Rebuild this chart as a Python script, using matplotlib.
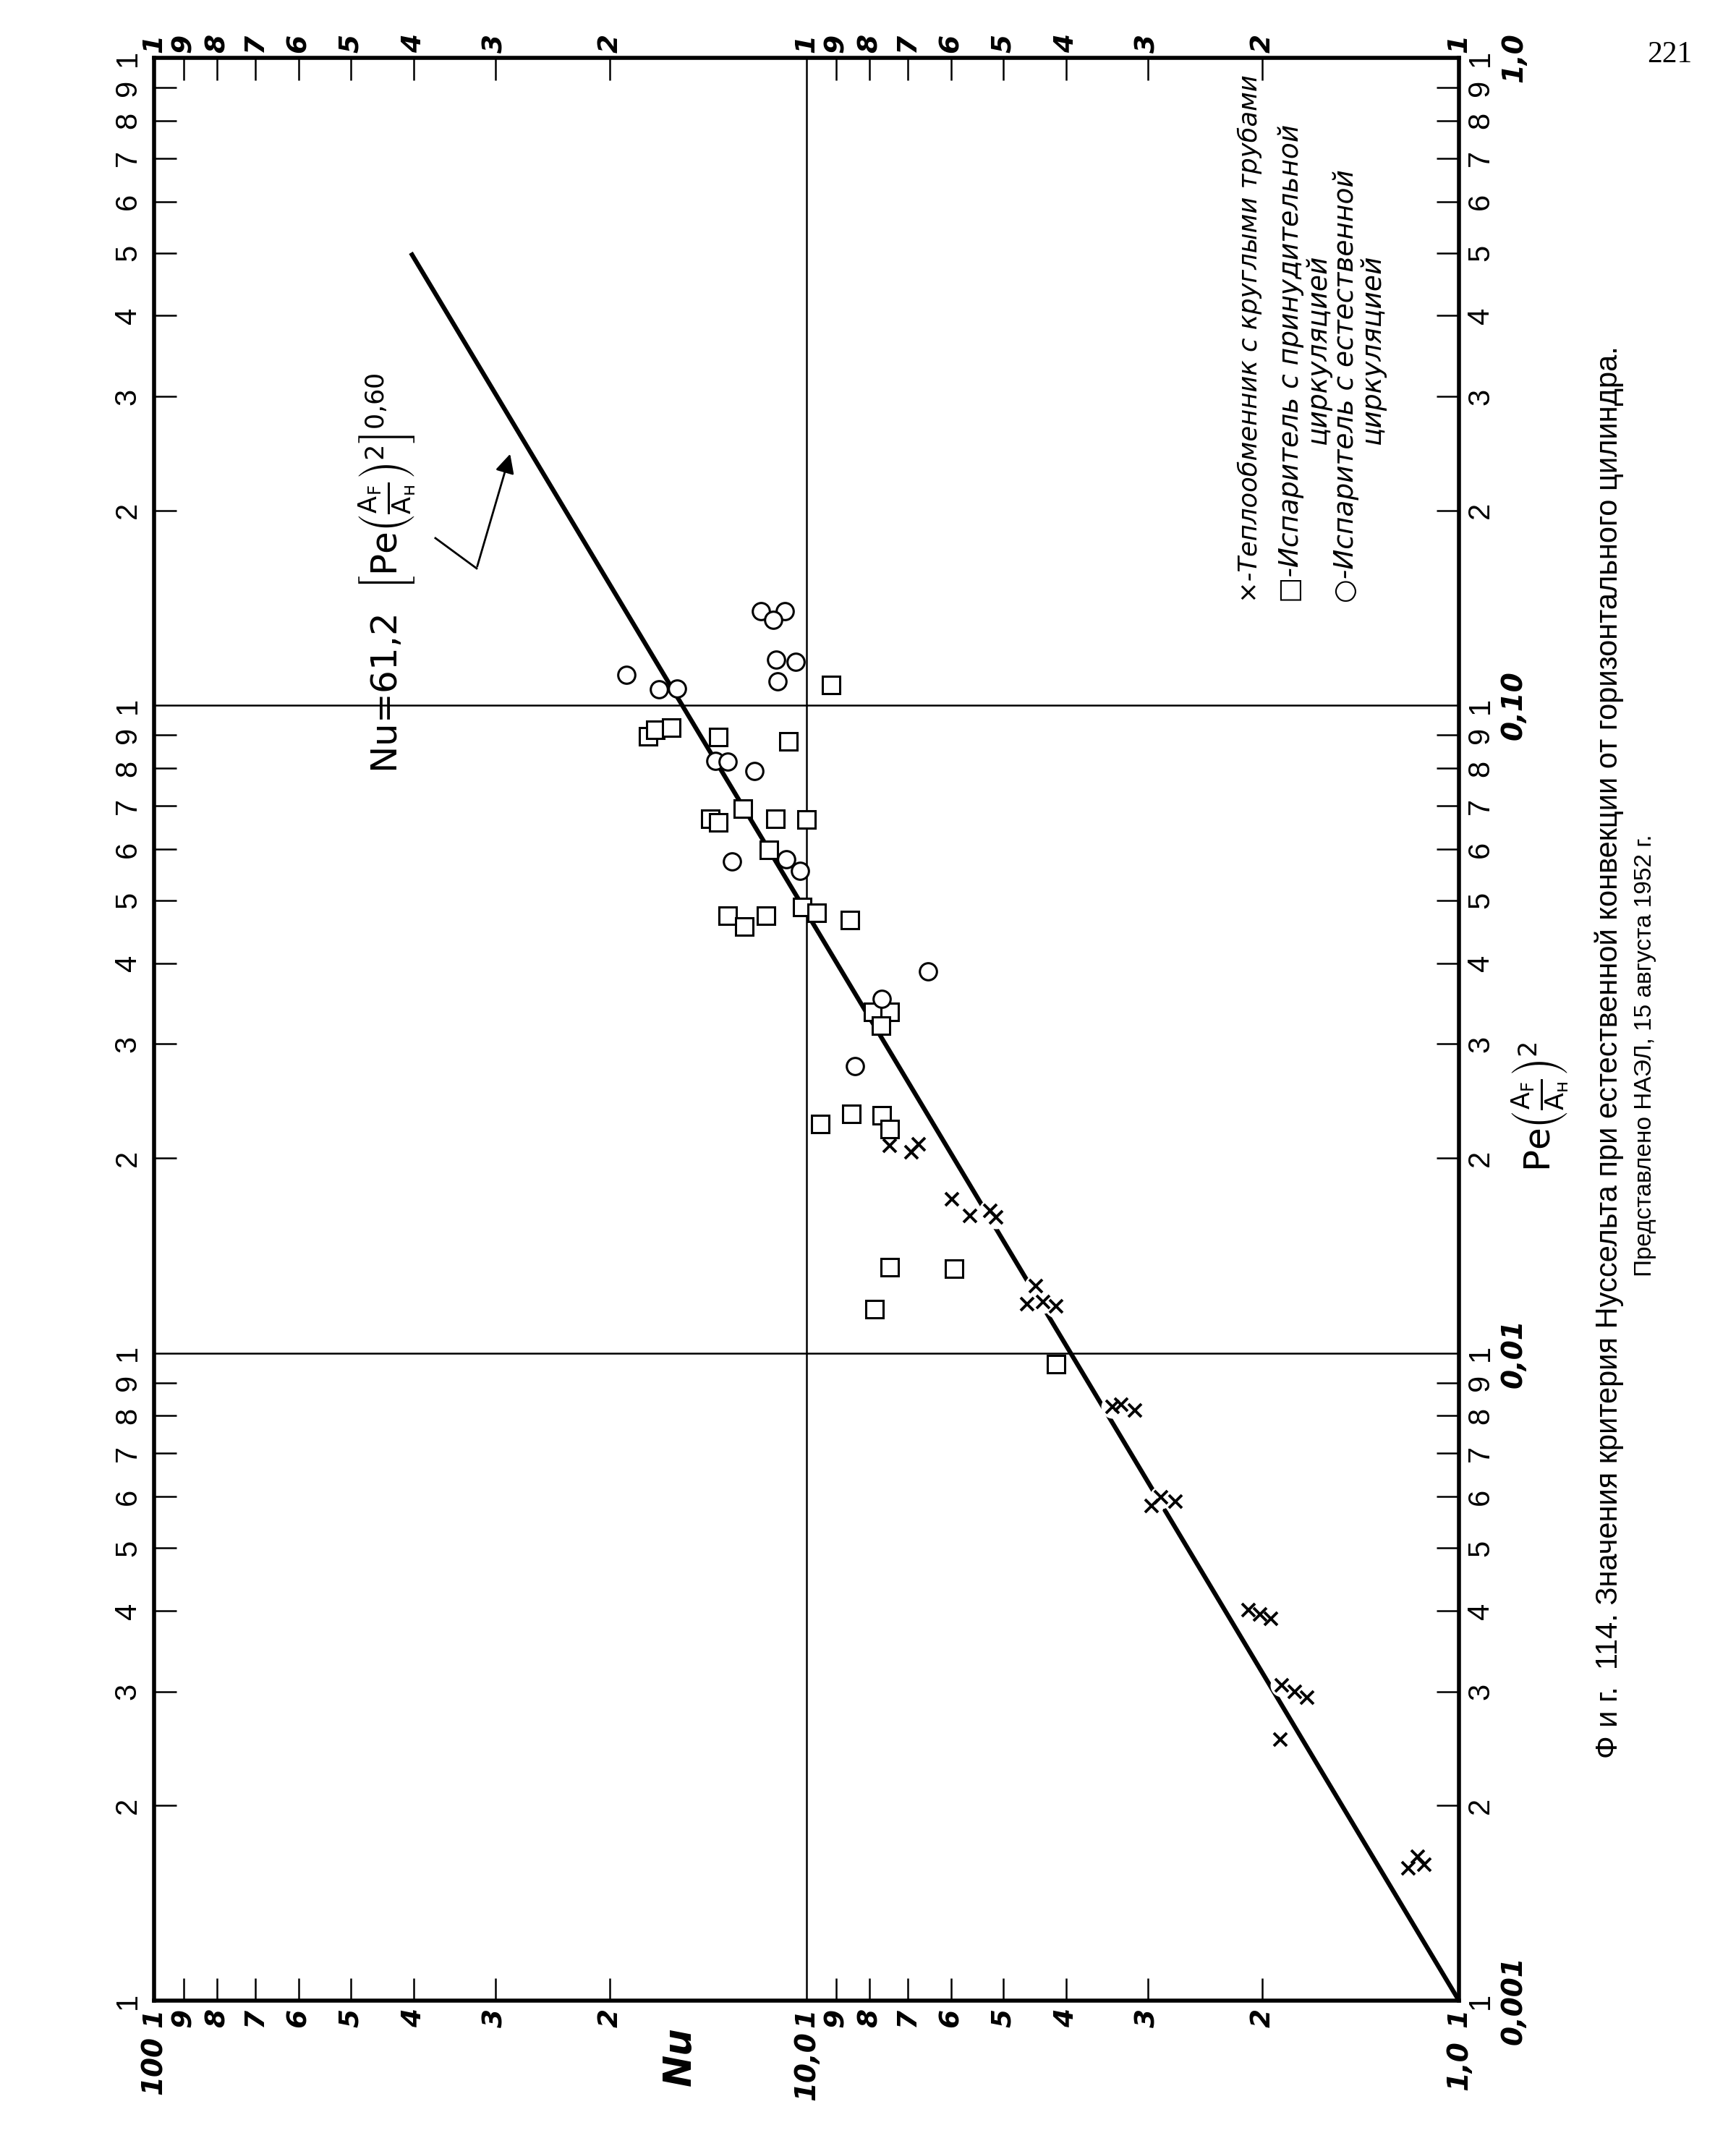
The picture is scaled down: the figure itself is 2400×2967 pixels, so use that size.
import numpy as np
import matplotlib.pyplot as plt
from matplotlib.transforms import blended_transform_factory

# оси: Nu по горизонтали (слева 100, справа 1), Pe(AF/AH)^2 по вертикали
nu_decades = [1, 10, 100]
pe_decades = [0.001, 0.01, 0.1, 1.0]
tick_digits = [2, 3, 4, 5, 6, 7, 8, 9]
nu_big_labels = ['1,0', '10,0', '100']
pe_big_labels = ['0,001', '0,01', '0,10', '1,0']

# x - теплообменник с круглыми трубами
tube_pe = [0.0209, 0.0204, 0.0210, 0.0173, 0.0163, 0.0166, 0.0162, 0.0127, 0.0119,
           0.0120, 0.0118, 0.00826, 0.00832, 0.00815, 0.00581, 0.00599, 0.00589,
           0.00401, 0.00395, 0.00389, 0.00307, 0.00300, 0.00294, 0.00253, 0.00160,
           0.00167, 0.00162]
tube_nu = [7.46, 6.91, 6.73, 5.99, 5.62, 5.23, 5.12, 4.45, 4.59,
           4.34, 4.14, 3.40, 3.29, 3.14, 2.96, 2.86, 2.72,
           2.10, 2.02, 1.94, 1.87, 1.785, 1.71, 1.88, 1.196,
           1.158, 1.131]

# квадраты - испаритель с принудительной циркуляцией
forced_pe = [0.1076, 0.0895, 0.0917, 0.0924, 0.0893, 0.0880, 0.0693, 0.0668, 0.0660,
             0.0668, 0.0666, 0.0598, 0.0473, 0.0456, 0.0473, 0.0488, 0.0479, 0.0466,
             0.0336, 0.0336, 0.0320, 0.0233, 0.0222, 0.0234, 0.0226, 0.01358, 0.01351,
             0.01169, 0.00961]
forced_nu = [9.16, 17.49, 17.06, 16.12, 13.65, 10.66, 12.52, 14.03, 13.65,
             11.16, 10.0, 11.42, 13.22, 12.45, 11.54, 10.16, 9.65, 8.59,
             7.90, 7.46, 7.69, 7.66, 7.46, 8.53, 9.53, 7.46, 5.94,
             7.87, 4.14]

# кружки - испаритель с естественной циркуляцией
natural_pe = [0.1397, 0.1397, 0.1356, 0.1178, 0.1168, 0.1090, 0.1116, 0.1060, 0.1062,
              0.0821, 0.0819, 0.0791, 0.0574, 0.0579, 0.0555, 0.0388, 0.0352, 0.0277]
natural_nu = [11.74, 10.8, 11.25, 11.13, 10.39, 11.07, 18.89, 16.84, 15.79,
              13.81, 13.22, 12.03, 13.01, 10.74, 10.24, 6.51, 7.67, 8.42]

# линия Nu = 61,2 [Pe(AF/AH)^2]^0,60
fit_pe = [0.001, 0.5]
fit_nu = [1.0, 40.4]

legend_lines = ['×-Теплообменник с круглыми трубами',
                '□-Испаритель с принудительной',
                'циркуляцией',
                '○-Испаритель с естественной',
                'циркуляцией']
caption = 'Ф и г.  114. Значения критерия Нуссельта при естественной конвекции от горизонтального цилиндра.'
caption2 = 'Представлено НАЭЛ, 15 августа 1952 г.'

W, H = 2400, 2967


def fxy(x, y):
    # пиксели страницы -> доли фигуры
    return x / W, 1 - y / H


fig = plt.figure(figsize=(W / 100, H / 100), dpi=100)
ax = fig.add_axes([213 / W, (H - 2766) / H, 1804 / W, 2686 / H])
ax.set_xscale('log')
ax.set_yscale('log')
ax.set_xlim(100, 1)
ax.set_ylim(0.001, 1)

nu_minor = [d * k for d in nu_decades[:-1] for k in tick_digits]
pe_minor = [d * k for d in pe_decades[:-1] for k in tick_digits]
ax.set_xticks(nu_decades)
ax.set_xticks(nu_minor, minor=True)
ax.set_yticks(pe_decades)
ax.set_yticks(pe_minor, minor=True)
ax.tick_params(which='both', direction='in', top=True, right=True,
               labelbottom=False, labelleft=False, labeltop=False, labelright=False)
ax.tick_params(which='major', length=0)
ax.tick_params(which='minor', length=22, width=1.8)
for s in ax.spines.values():
    s.set_linewidth(4)

for v in nu_decades[1:-1]:
    ax.axvline(v, color='black', lw=1.8, zorder=1)
for v in pe_decades[1:-1]:
    ax.axhline(v, color='black', lw=1.8, zorder=1)

# линия и точки
ax.plot(fit_nu, fit_pe, color='black', lw=4.5, solid_capstyle='butt', zorder=2)
ax.plot(tube_nu, tube_pe, 'o', ms=22, color='white', zorder=3)
ax.plot(tube_nu, tube_pe, 'x', ms=13, mew=2.8, color='black', zorder=4)
ax.plot(forced_nu, forced_pe, 's', ms=17, mew=2.2, mfc='white', mec='black', zorder=4)
ax.plot(natural_nu, natural_pe, 'o', ms=17, mew=2.2, mfc='white', mec='black', zorder=4)

# подписи шкал
tx = blended_transform_factory(ax.transData, ax.transAxes)
ty = blended_transform_factory(ax.transAxes, ax.transData)
edge_nu = [(d, '1') for d in nu_decades] + [(d * k, str(k)) for d in nu_decades[:-1] for k in tick_digits]
edge_pe = [(d, '1') for d in pe_decades] + [(d * k, str(k)) for d in pe_decades[:-1] for k in tick_digits]
for v, lab in edge_nu:
    for yy in (-0.0089, 1.0075):
        ax.text(v, yy, lab, transform=tx, rotation=90, ha='center', va='center',
                fontsize=27, fontweight='bold', style='italic')
for v, lab in edge_pe:
    for xx in (-0.020, 1.0166):
        ax.text(xx, v, lab, transform=ty, rotation=90, ha='center', va='center',
                fontsize=30, family='Liberation Sans')
for v, lab in zip(nu_decades, nu_big_labels):
    ax.text(v, -0.0335, lab, transform=tx, rotation=90, ha='center', va='center',
            fontsize=28, fontweight='bold', style='italic')
for v, lab in zip(pe_decades, pe_big_labels):
    ax.text(1.0421, v, lab, transform=ty, rotation=90, ha='center', va='center',
            fontsize=28, fontweight='bold', style='italic')

ax.text(0.403, -0.0287, 'Nu', transform=ax.transAxes, rotation=90, ha='center', va='center',
        fontsize=38, fontweight='bold', style='italic')
ax.text(1.0625, 0.4602, r'$\mathrm{Pe}\left(\frac{\mathrm{A}_\mathrm{F}}{\mathrm{A}_\mathrm{н}}\right)^2$',
        transform=ax.transAxes, rotation=90, ha='center', va='center', fontsize=36)

# формула со стрелкой
ax.text(0.179, 0.6318,
        r'Nu=61,2  $\left[\mathrm{Pe}\left(\frac{\mathrm{A}_\mathrm{F}}{\mathrm{A}_\mathrm{н}}\right)^2\right]^{0{,}60}$',
        transform=ax.transAxes, rotation=90, rotation_mode='anchor', ha='left', va='center', fontsize=36)
ax.plot([0.2156, 0.2472], [0.7528, 0.7372], transform=ax.transAxes, color='black', lw=2)
ax.annotate('', xy=(0.2733, 0.7971), xytext=(0.2472, 0.7372), xycoords='axes fraction',
            arrowprops=dict(arrowstyle='-|>', color='black', lw=2, mutation_scale=40))

# легенда
legend_pos = [(1728, 833), (1785, 833), (1823, 615), (1861, 833), (1898, 615)]
legend_size = [25.5, 27, 27, 27, 27]
for (px, py), line, fs in zip(legend_pos, legend_lines, legend_size):
    fig.text(*fxy(px, py), line, rotation=90, rotation_mode='anchor', ha='left', va='center',
             fontsize=fs, style='italic')

fig.text(*fxy(2225, 2431), caption, rotation=90, rotation_mode='anchor', ha='left', va='center',
         fontsize=30, family='Liberation Sans')
fig.text(*fxy(2275, 1765), caption2, rotation=90, rotation_mode='anchor', ha='left', va='center',
         fontsize=24, family='Liberation Sans')
fig.text(*fxy(2308, 76), '221', ha='center', va='center', fontsize=30, family='Liberation Serif')

fig.savefig('out.png', dpi=100, facecolor='white')
